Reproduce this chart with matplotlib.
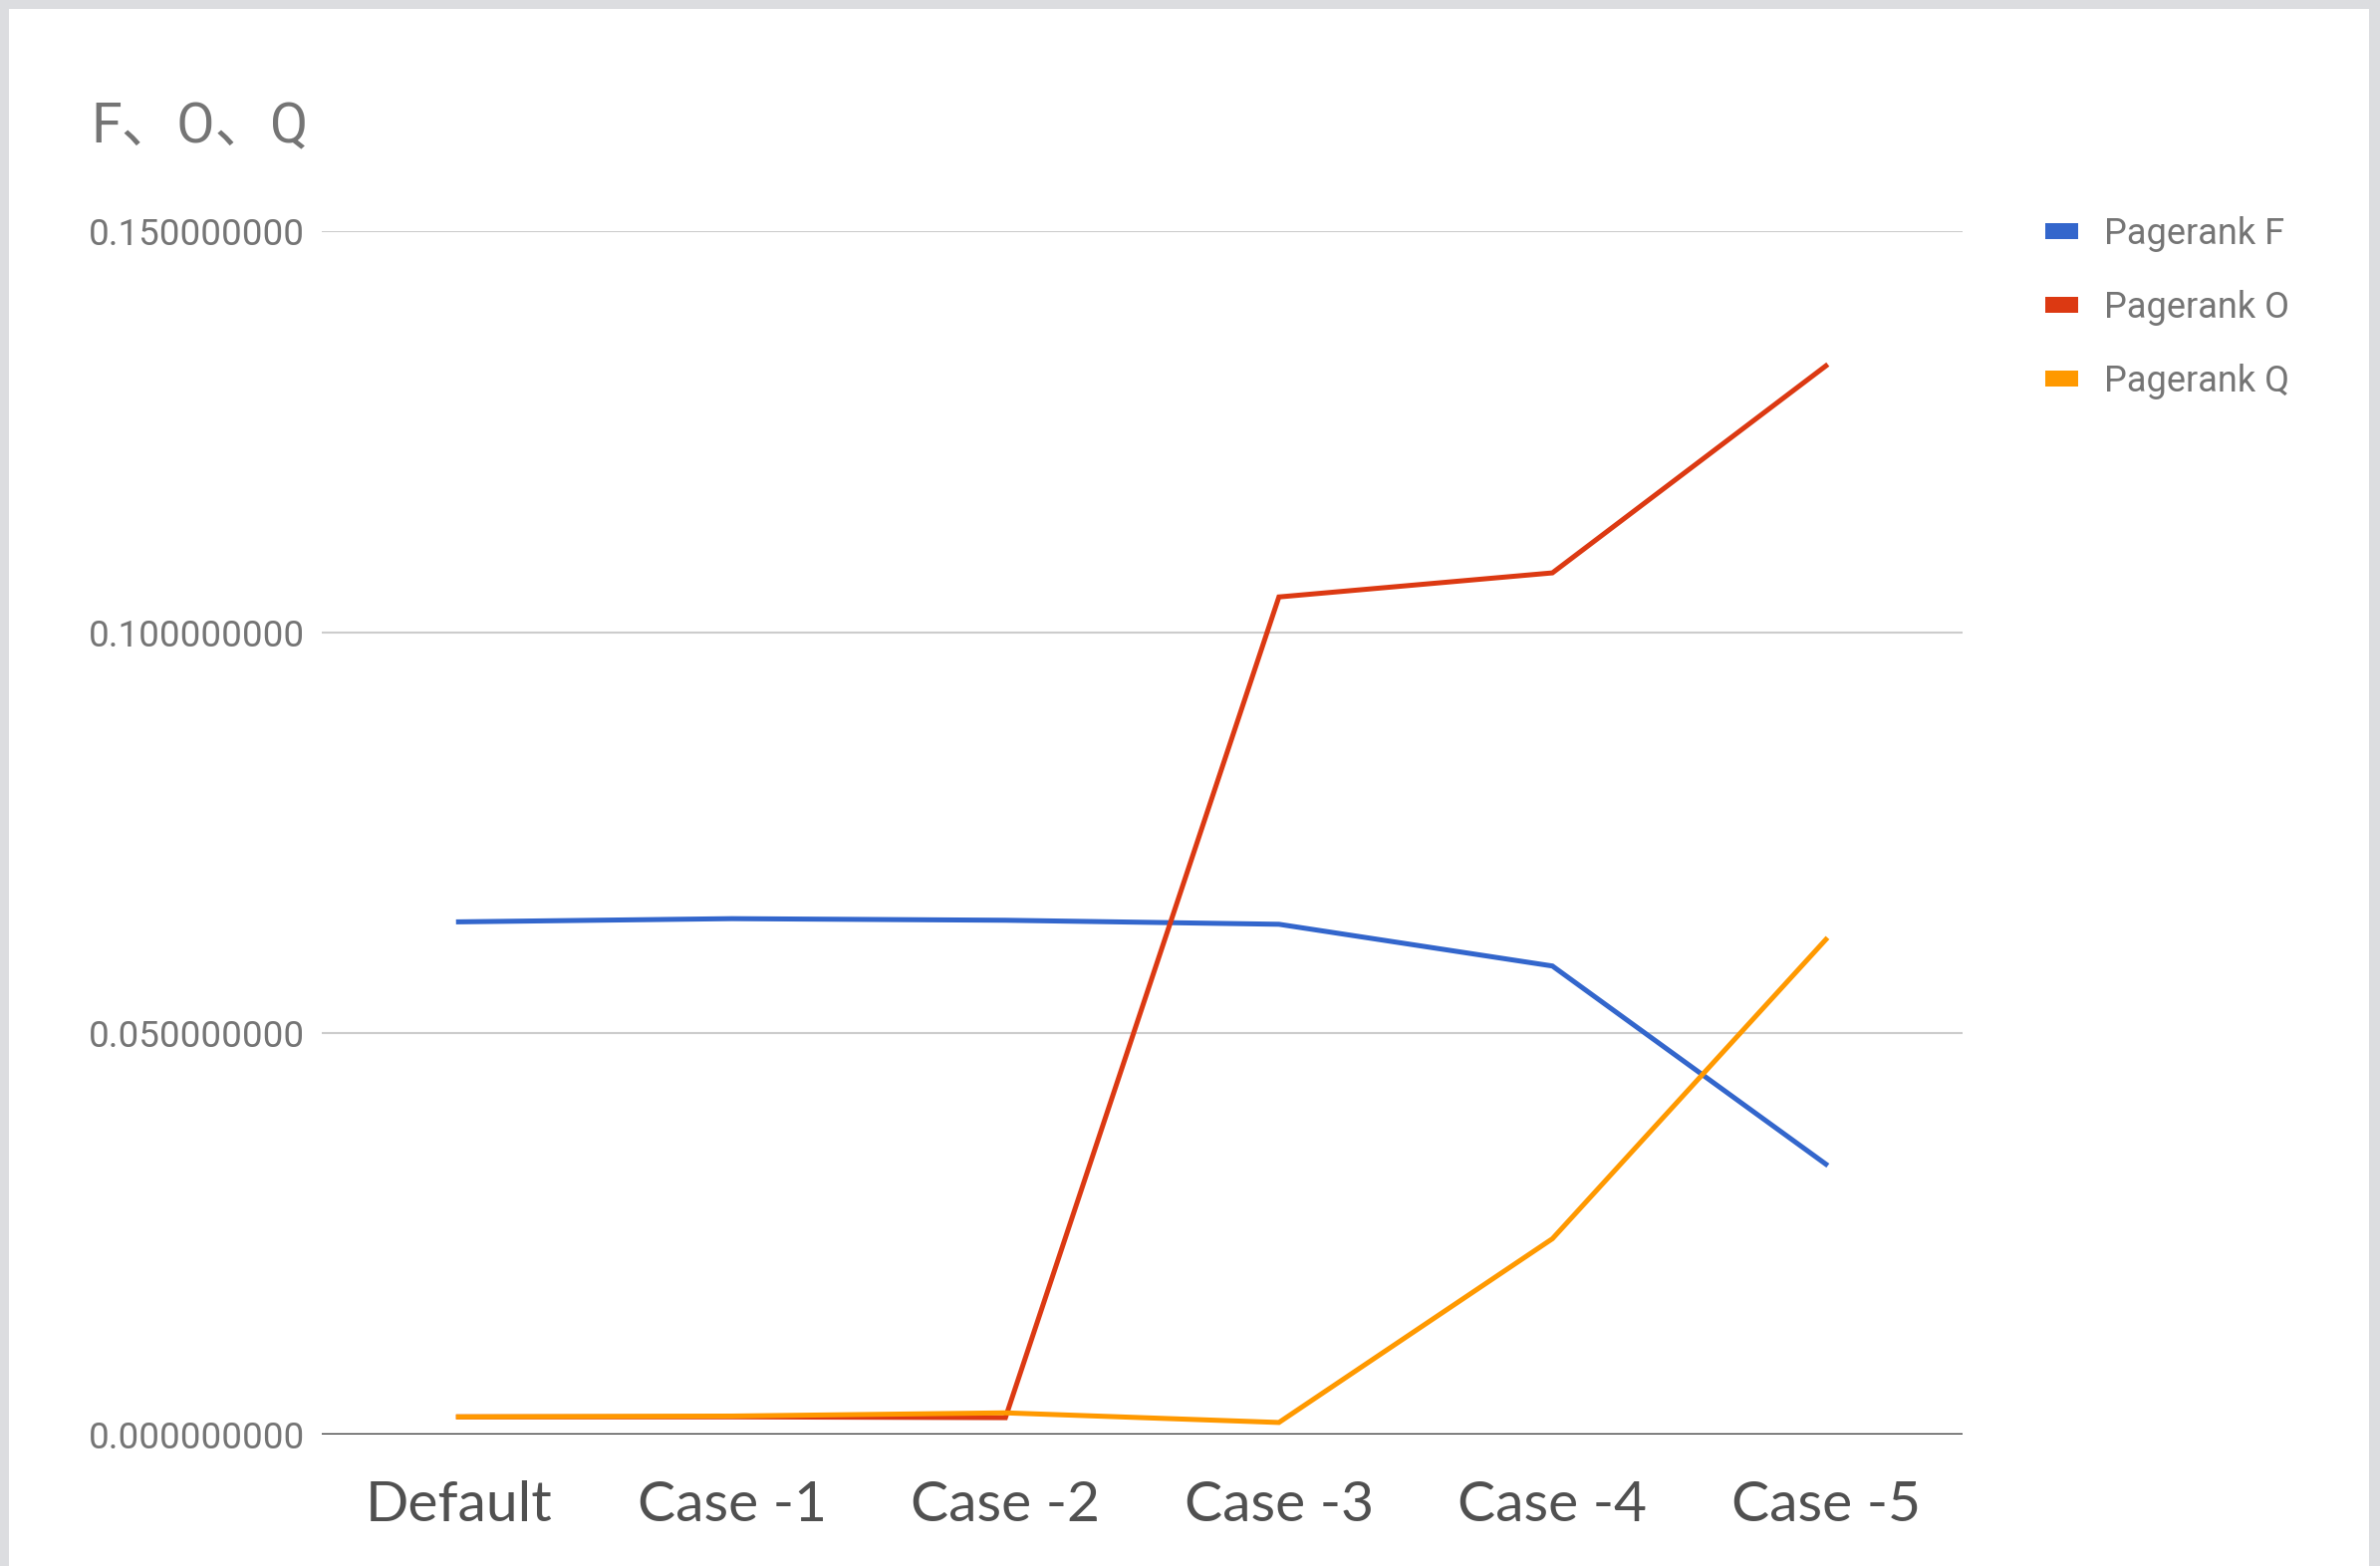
import matplotlib
matplotlib.use("Agg")
import matplotlib.pyplot as plt
from matplotlib.patches import Rectangle, Patch
from matplotlib.ticker import FormatStrFormatter
import numpy as np

# 資料
cases = ["Default", "Case -1", "Case -2", "Case -3", "Case -4", "Case -5"]
pagerank_f = [0.0639, 0.0643, 0.0641, 0.0636, 0.0584, 0.0337]
pagerank_o = [0.0022, 0.0022, 0.0021, 0.1044, 0.1074, 0.1332]
pagerank_q = [0.0022, 0.0023, 0.0027, 0.0015, 0.0244, 0.0617]
series_names = ["Pagerank F", "Pagerank O", "Pagerank Q"]
y_ticks = [0.0, 0.05, 0.10, 0.15]

COLORS = ["#3366cc", "#dc3912", "#ff9900"]
W, H, DPI = 2389, 1572, 100

fig = plt.figure(figsize=(W / DPI, H / DPI), dpi=DPI, facecolor="#dcdde0")
# 白色卡片底
fig.patches.append(Rectangle((9 / W, 0), (2378 - 9) / W, (H - 9) / H,
                             transform=fig.transFigure, facecolor="white",
                             edgecolor="none", zorder=-10))

ax = fig.add_axes([323 / W, 132 / H, (1970 - 323) / W, (1440 - 232) / H])
ax.set_facecolor("none")
x = np.arange(len(cases))

for vals, c, name in zip([pagerank_f, pagerank_o, pagerank_q], COLORS, series_names):
    ax.plot(x, vals, color=c, lw=3.6, label=name, clip_on=False,
            solid_joinstyle="miter", zorder=3)

ax.set_xlim(-0.5, len(cases) - 0.5)
ax.set_ylim(0, 0.15)
ax.set_yticks(y_ticks)
ax.yaxis.set_major_formatter(FormatStrFormatter("%.9f"))
for v in y_ticks[1:]:
    ax.axhline(v, color="#cccccc", lw=1.5, zorder=1)
ax.axhline(0, color="#333333", lw=2.5, zorder=2)

for s in ax.spines.values():
    s.set_visible(False)

ax.tick_params(axis="y", length=0, pad=12, labelsize=26.5, labelcolor="#757575")
for lab in ax.get_yticklabels():
    lab.set_family("Roboto")

ax.set_xticks(x)
ax.set_xticklabels(cases, family=["Lato", "DejaVu Sans"], fontweight="normal",
                   fontsize=41, color="#505050")
ax.tick_params(axis="x", length=0, pad=33)

fig.text(91 / W, 1 - 128 / H, "F、O、Q", family=["Roboto", "Noto Sans CJK SC"],
         fontsize=40, color="#757575", va="center", ha="left")

handles = [Patch(facecolor=c, edgecolor="none") for c in COLORS]
fig.legend(handles, series_names, loc="upper left",
           bbox_to_anchor=(2053 / W, 1 - 217 / H), frameon=False,
           prop={"family": "Roboto", "size": 26}, labelcolor="#757575",
           handlelength=0.92, handleheight=0.33, handletextpad=0.7,
           labelspacing=1.05, borderpad=0, borderaxespad=0)

fig.savefig("out.png", dpi=DPI, facecolor=fig.get_facecolor())
